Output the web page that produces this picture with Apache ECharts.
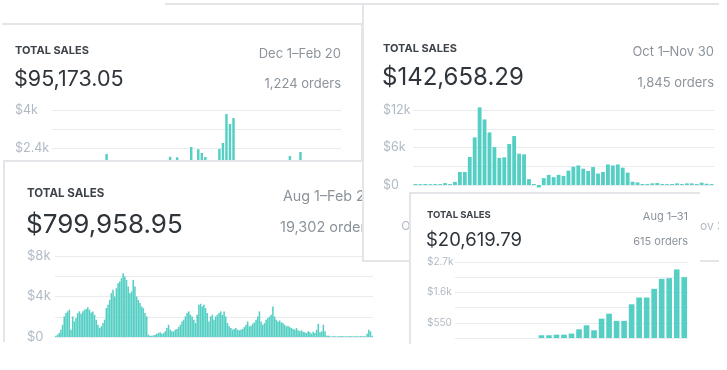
<!DOCTYPE html>
<html><head><meta charset="utf-8">
<script src="https://cdn.jsdelivr.net/npm/echarts@6/dist/echarts.min.js"></script>
<style>
html,body{margin:0;padding:0;background:#fff;width:727px;height:370px;overflow:hidden;position:relative}
.card{position:absolute;background:#fff}
.chart{position:absolute;left:0;top:0;width:100%;height:100%}
.bd{position:absolute;left:0;top:0;right:0;bottom:0;box-sizing:border-box;pointer-events:none}
</style></head><body>
<div style="position:absolute;left:165px;top:3px;width:200px;height:2px;background:#e3e5e8;z-index:1"></div>
<div class="card" style="left:2px;top:23px;width:361px;height:200px;z-index:2">
  <div id="c1" class="chart"></div><div class="bd" style="border-top:2px solid #e3e5e8;border-right:2px solid #e3e5e8"></div></div>
<div class="card" style="left:3px;top:160px;width:373px;height:182px;z-index:3">
  <div id="c3" class="chart"></div><div class="bd" style="border-top:2px solid #e3e5e8;border-left:2px solid #e3e5e8"></div></div>
<div class="card" style="left:362px;top:3px;width:357px;height:259px;z-index:4">
  <div id="c2" class="chart"></div><div class="bd" style="border-top:2px solid #e3e5e8;border-left:2px solid #e3e5e8;border-bottom:2px solid #e3e5e8"></div></div>
<div class="card" style="left:409px;top:192px;width:291px;height:152px;z-index:5">
  <div id="c4" class="chart"></div><div class="bd" style="border-top:2px solid #e3e5e8;border-left:2px solid #e3e5e8"></div></div>
<script>
// ---- data ----
const card1Values = [
 620, 880, 1040, 760, 540, 910, 1230, 1480, 1120, 830,
 690, 1010, 1350, 1560, 1270, 2150, 1380, 940, 720, 1090,
 1310, 1150, 860, 610, 980, 1240, 1420, 1190, 900, 1330,
 1560, 1690, 1450, 2030, 1620, 2010, 1510, 1280, 1730, 2440,
 1790, 2350, 2190, 2020, 1640, 1470, 1750, 2360, 2610, 3830,
 3410, 3660, 1720, 1380, 1100, 940, 820, 1050, 1260, 1150,
 900, 760, 880, 1070, 1290, 1480, 1610, 2060, 1540, 1390,
 2230, 1300, 1080, 920, 780, 690, 840, 1010, 870, 720, 600, 540];
const card2Values = [
 150, 140, 160, 130, 150, 140, 300, 150, 500, 2090,
 2090, 4490, 7620, 12420, 10490, 8400, 6050, 4330, 4430, 6570,
 7830, 5010, 4900, 940, 160, -400, 1100, 1620, 1250, 1620,
 1460, 2300, 2920, 3130, 2610, 2240, 2870, 1830, 2090, 3290,
 3130, 3290, 2770, 1980, 520, 420, 160, 160, 260, 310,
 150, 140, 160, 260, 150, 260, 260, 150, 370, 200, 150];
const card3Values = [
 130, 230, 390, 720, 1210, 2030, 2360, 2530, 2690, 720,
 2030, 1540, 1870, 2360, 2530, 2300, 2530, 2690, 2760, 2950,
 2690, 2430, 2530, 2200, 1710, 1210, 890, 1050, 1380, 1710,
 2850, 3180, 3670, 4330, 4660, 4000, 4820, 5310, 5480, 5810,
 6300, 5970, 5640, 4990, 4330, 4490, 5640, 4990, 4000, 3670,
 3350, 3020, 2850, 2360, 2030, 230, 130, 130, 160, 230,
 330, 390, 460, 330, 390, 560, 890, 1210, 720, 560,
 560, 720, 790, 980, 1210, 1540, 1710, 2030, 2360, 2530,
 2200, 2030, 1710, 1380, 2200, 3180, 3280, 3020, 3180, 2850,
 2360, 1540, 2030, 2200, 1710, 2030, 2200, 2360, 2530, 2200,
 2530, 2030, 1380, 1050, 890, 720, 790, 890, 720, 660,
 720, 790, 980, 1210, 1540, 1050, 1120, 1310, 1440, 1710,
 2030, 2530, 1540, 1210, 1380, 1710, 1870, 2030, 2200, 3020,
 2030, 1710, 1540, 1640, 1440, 1380, 1210, 1050, 1120, 980,
 890, 790, 720, 890, 660, 560, 660, 520, 460, 390,
 560, 460, 330, 520, 390, 720, 1310, 460, 560, 1210,
 560, 130, 130, 80, 60, 90, 70, 60, 80, 70,
 90, 60, 70, 80, 60, 90, 70, 60, 80, 70,
 60, 90, 70, 80, 60, 330, 720, 560, 130];
const card4Values = [0,0,0,0,0,0,0,0,0,0,0,
 100, 100, 120, 120, 160, 315, 460, 280, 700, 880,
 620, 620, 1220, 1465, 1465, 1780, 2140, 2165, 2480, 2200];

const card1Y = {min:0, max:4000, interval:800, ticks:[4000,2400,800], labels:['$4k','$2.4k','$0.8k']};
const card2Y = {min:0, max:12000, interval:3000, ticks:[12000,6000,0], labels:['$12k','$6k','$0']};
const card3Y = {min:0, max:8000, interval:2000, ticks:[8000,4000,0], labels:['$8k','$4k','$0']};
const card4Y = {min:0, max:2750, interval:550, ticks:[2750,1650,550], labels:['$2.7k','$1.6k','$550']};
const card2XLabels = ['Oct 1','Nov 30'];

const titles = ['TOTAL SALES','TOTAL SALES','TOTAL SALES','TOTAL SALES'];
const totals = ['$95,173.05','$142,658.29','$799,958.95','$20,619.79'];
const ranges = ['Dec 1–Feb 20','Oct 1–Nov 30','Aug 1–Feb 20','Aug 1–31'];
const orders = ['1,224 orders','1,845 orders','19,302 orders','615 orders'];

// ---- helpers ----
const MONTHS=['Jan','Feb','Mar','Apr','May','Jun','Jul','Aug','Sep','Oct','Nov','Dec'];
function dayCats(y,m,d,n){const out=[];const dt=new Date(Date.UTC(y,m,d));for(let i=0;i<n;i++){out.push(MONTHS[dt.getUTCMonth()]+' '+dt.getUTCDate());dt.setUTCDate(dt.getUTCDate()+1);}return out;}
const FONT='Inter, "Noto Sans", sans-serif';
const BAR='#55cfc4';
function txt(text,x,y,size,weight,color,align){
  return {type:'text',x:x,y:y,z:10,style:{text:text,font:weight+' '+size+'px '+FONT,fill:color,textAlign:align,align:align,textVerticalAlign:'middle',verticalAlign:'middle'}};
}
function build(el,o){
  const ch=echarts.init(document.getElementById(el),null,{renderer:'canvas'});
  const yl=o.y;
  const option={
    animation:false,
    grid:{left:o.grid[0],right:o.grid[1],top:o.grid[2],bottom:o.grid[3],containLabel:false,outerBoundsMode:'none'},
    xAxis:{type:'category',data:o.cats,axisLine:{show:false},axisTick:{show:false},
      axisLabel:o.xlab||{show:false},splitLine:{show:false}},
    yAxis:{type:'value',min:yl.min,max:yl.max,interval:yl.interval,axisLine:{show:false},axisTick:{show:false},
      splitLine:{lineStyle:{color:'#e9ecef',width:1}},
      axisLabel:{align:'left',margin:o.lm,color:'#b1bac4',fontSize:o.lfs,fontFamily:FONT,
        formatter:function(v){const i=yl.ticks.indexOf(v);return i<0?'':yl.labels[i];}}},
    series:[{type:'bar',data:o.data,barCategoryGap:o.gap,clip:false,itemStyle:{color:BAR},silent:true}],
    graphic:o.g
  };
  ch.setOption(option);
}
// card 1
build('c1',{cats:dayCats(2016,11,1,card1Values.length),data:card1Values,y:card1Y,grid:[50,22,87,18],lm:37,lfs:12.5,gap:'30%',
  g:[txt(titles[0],13,28,11,'bold','#3d4349','left'),txt(totals[0],12,57,21.5,'normal','#2f353b','left'),
     txt(ranges[0],339,31,13,'normal','#8b939b','right'),txt(orders[0],339,61,13,'normal','#8b939b','right')]});
// card 3
build('c3',{cats:dayCats(2016,7,1,card3Values.length),data:card3Values,y:card3Y,grid:[52,3,96,5],lm:28,lfs:13,gap:'8%',
  g:[txt(titles[2],24,34,11.5,'bold','#3d4349','left'),txt(totals[2],23,65,26,'normal','#2f353b','left'),
     txt(ranges[2],280,37,14.3,'normal','#8b939b','left'),txt(orders[2],277,68,14.5,'normal','#8b939b','left')]});
// card 2
const c2cats=dayCats(2016,9,1,card2Values.length);
build('c2',{cats:c2cats,data:card2Values,y:card2Y,grid:[51,5,107,77],lm:30,lfs:12.5,gap:'22%',
  xlab:{show:true,margin:35,color:'#b1bac4',fontSize:12,fontFamily:FONT,
    interval:function(i){return i===0||i===c2cats.length-1;},
    formatter:function(v,i){return i===0?card2XLabels[0]:card2XLabels[1];}},
  g:[txt(titles[1],21,46,11,'bold','#3d4349','left'),txt(totals[1],20,75,24,'normal','#2f353b','left'),
     txt(ranges[1],352,49,13,'normal','#8b939b','right'),txt(orders[1],352,80,13,'normal','#8b939b','right')]});
// card 4
build('c4',{cats:dayCats(2017,7,1,card4Values.length),data:card4Values,y:card4Y,grid:[46,12,70,6],lm:28,lfs:10,gap:'25%',
  g:[txt(titles[3],18,23,9.5,'bold','#3d4349','left'),txt(totals[3],17,48,18.5,'normal','#2f353b','left'),
     txt(ranges[3],279,25,11,'normal','#8b939b','right'),txt(orders[3],279,50,11,'normal','#8b939b','right')]});
</script>
</body></html>
